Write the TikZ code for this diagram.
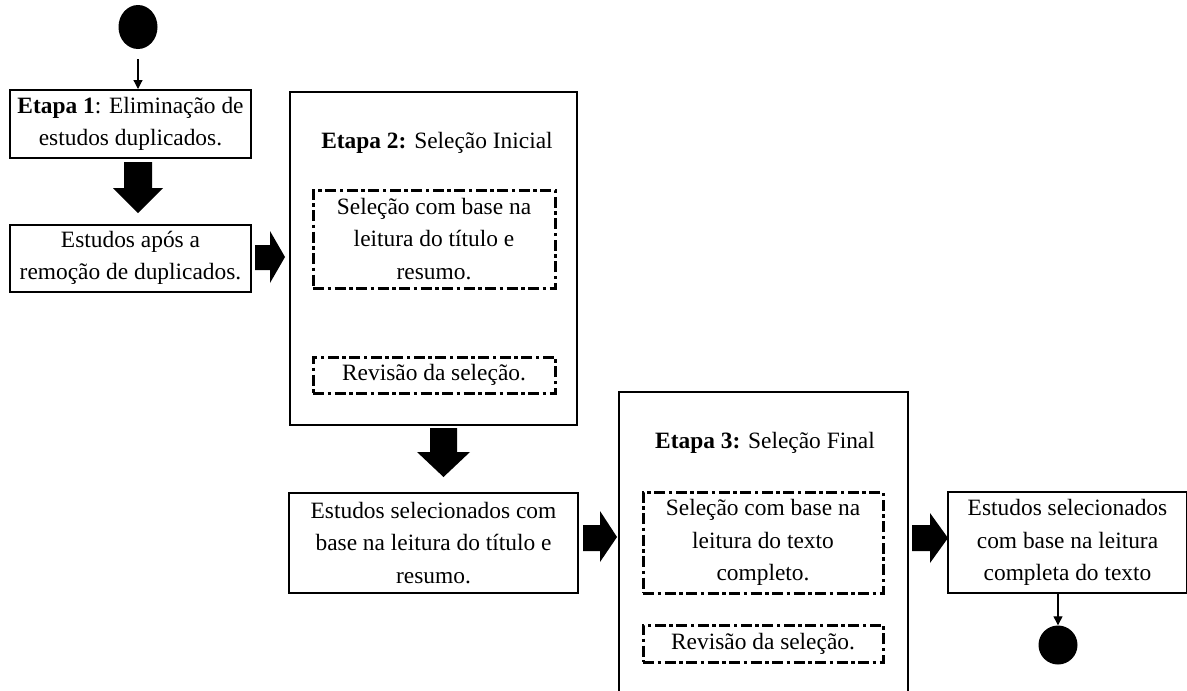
\documentclass[tikz,border=0pt]{standalone}
\usepackage{fontspec}
\setmainfont{Liberation Serif}
\usetikzlibrary{shapes.geometric,arrows.meta}
\begin{document}
\begin{tikzpicture}[x=1pt,y=-1pt,
  txt/.style={font=\fontsize{23.4}{32.5}\selectfont, align=center, inner sep=0pt},
  solidbox/.style={draw=black, line width=2pt, inner sep=0pt},
  dashbox/.style={draw=black, line width=3pt, inner sep=0pt,
    dash pattern=on 11pt off 3.5pt on 3.5pt off 3.5pt},
  flow/.style={draw=black, line width=1.2pt, -{Triangle[length=9pt,width=9pt]}},
  blockfill/.style={fill=black}
]
\useasboundingbox (0,0) rectangle (1187,691);

% start and end markers
\node[ellipse, fill=black, minimum width=39pt, minimum height=44pt, inner sep=0pt] (start) at (138,27) {};
\node[circle, fill=black, minimum size=39pt, inner sep=0pt] (finish) at (1058,645) {};

% stage 1
\node[solidbox, minimum width=241pt, minimum height=68pt] (b1) at (130.5,124) {};
\node[txt] (t1) at (b1.center) {\textbf{Etapa 1}: Eliminação de\\estudos duplicados.};
\node[solidbox, minimum width=241pt, minimum height=67pt] (b2) at (130.5,258) {};
\node[txt] (t2) at (b2.center) {Estudos após a\\remoção de duplicados.};

% stage 2
\node[solidbox, minimum width=287pt, minimum height=333pt] (s2) at (433.5,258.5) {};
\node[txt] (s2title) at (437,143) {\textbf{Etapa 2:} Seleção Inicial};
\node[dashbox, minimum width=242pt, minimum height=98pt] (d1) at (434,239) {};
\node[txt] (d1t) at (d1.center) {Seleção com base na\\leitura do título e\\resumo.};
\node[dashbox, minimum width=242pt, minimum height=36pt] (d2) at (434,375) {};
\node[txt] (d2t) at (d2.center) {Revisão da seleção.};

% result of stage 2
\node[solidbox, minimum width=289pt, minimum height=100pt] (b3) at (433.5,543) {};
\node[txt] (t3) at (b3.center) {Estudos selecionados com\\base na leitura do título e\\resumo.};

% stage 3
\node[solidbox, minimum width=289pt, minimum height=310pt] (s3) at (763,547) {};
\node[txt] (s3title) at (765,443) {\textbf{Etapa 3:} Seleção Final};
\node[dashbox, minimum width=240pt, minimum height=101pt] (d3) at (763,542.5) {};
\node[txt] (d3t) at (d3.center) {Seleção com base na\\leitura do texto\\completo.};
\node[dashbox, minimum width=240pt, minimum height=37pt] (d4) at (763,643.5) {};
\node[txt] (d4t) at (d4.center) {Revisão da seleção.};

% final result
\node[solidbox, minimum width=239pt, minimum height=101pt] (b4) at (1067.5,542.5) {};
\node[txt] (t4) at (b4.center) {Estudos selecionados\\com base na leitura\\completa do texto};

% thin connectors
\draw[flow] (start.south) ++(0,10) -- (start.south |- b1.north);
\draw[flow] (b4.south -| finish) -- (finish.north);

% block arrows
\fill[blockfill] (124,162) -- (152,162) -- (152,188) -- (163,188) -- (138,213) -- (113,188) -- (124,188) -- cycle;
\fill[blockfill] (255,245) -- (270,245) -- (270,231) -- (285,257) -- (270,283) -- (270,270) -- (255,270) -- cycle;
\fill[blockfill] (430,428) -- (457,428) -- (457,452) -- (470,452) -- (443.5,477) -- (417,452) -- (430,452) -- cycle;
\fill[blockfill] (583,525) -- (600,525) -- (600,511) -- (617,537) -- (600,562) -- (600,551) -- (583,551) -- cycle;
\fill[blockfill] (912,525) -- (930,525) -- (930,513) -- (948,538) -- (930,563) -- (930,551) -- (912,551) -- cycle;
\end{tikzpicture}
\end{document}
